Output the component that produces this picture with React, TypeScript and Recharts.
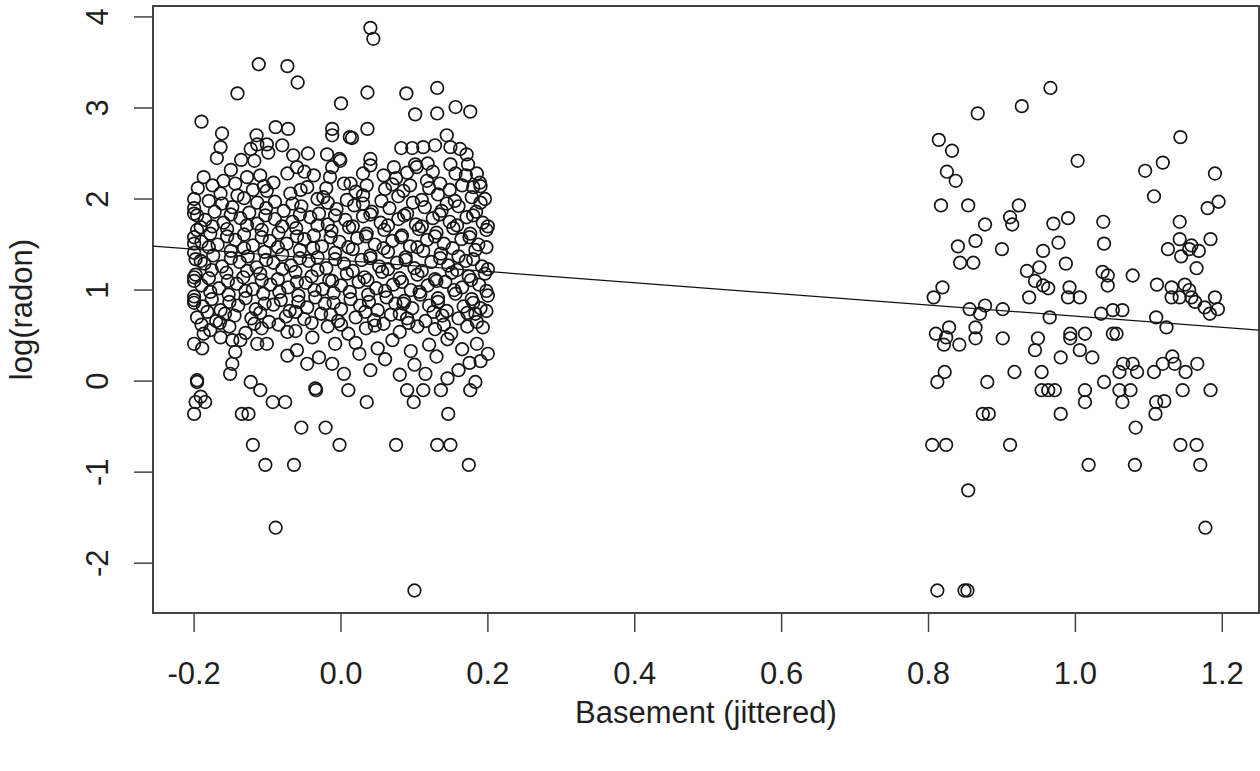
import React from "react"
import {
  ScatterChart,
  Scatter,
  XAxis,
  YAxis,
  ReferenceLine,
  ReferenceArea,
} from "recharts"

// fitted line from the plot: log(radon) = a + b * basement
const intercept = 1.3262
const slope = -0.6133

const xDomain: [number, number] = [-0.256, 1.25]
const yDomain: [number, number] = [-2.547, 4.12]
const xTicks = [-0.2, 0, 0.2, 0.4, 0.6, 0.8, 1.0, 1.2]
const yTicks = [-2, -1, 0, 1, 2, 3, 4]

// basement = 0 group, upper fringe
const basementHigh: [number, number][] = [
  [0.04, 3.88], [0.044, 3.76], [-0.112, 3.48], [-0.073, 3.46], [-0.059, 3.28],
  [-0.141, 3.16], [0.0, 3.05], [0.036, 3.17], [0.089, 3.16], [0.131, 3.22],
  [0.101, 2.93], [0.131, 2.94], [0.156, 3.01], [0.176, 2.96], [-0.19, 2.85],
  [-0.162, 2.72], [-0.089, 2.79], [-0.072, 2.77], [-0.012, 2.77], [-0.012, 2.7],
  [0.012, 2.68], [0.015, 2.67], [0.036, 2.77], [0.144, 2.7], [-0.164, 2.57],
  [-0.169, 2.45], [-0.115, 2.7], [-0.114, 2.6], [-0.123, 2.55], [-0.101, 2.6],
  [-0.08, 2.59], [-0.045, 2.5], [-0.136, 2.43], [-0.118, 2.42], [-0.099, 2.51],
  [-0.065, 2.48], [-0.019, 2.49], [-0.002, 2.44], [0.082, 2.56], [0.097, 2.56],
  [0.112, 2.57], [0.128, 2.59], [0.149, 2.57], [0.162, 2.55], [0.04, 2.44],
  [0.04, 2.37], [0.171, 2.49], [0.173, 2.38], [0.149, 2.38], [0.118, 2.39],
  [0.101, 2.38], [0.072, 2.35], [0.058, 2.26], [0.156, 2.28], [0.185, 2.28],
  [0.189, 2.18], [0.18, 2.13], [-0.001, 2.42], [0.013, 2.17], [0.035, 2.15],
  [0.09, 2.29], [0.103, 2.35], [0.085, 2.09], [0.117, 2.2], [0.135, 2.17],
  [0.094, 2.15], [-0.187, 2.24], [-0.16, 2.2], [-0.144, 2.17], [-0.128, 2.24],
  [-0.11, 2.26], [-0.092, 2.18], [-0.073, 2.28], [-0.06, 2.35], [-0.037, 2.26],
  [-0.012, 2.35], [-0.015, 2.24], [0.004, 2.17], [-0.2, 2.0], [-0.164, 2.06],
  [-0.141, 2.04], [-0.101, 2.09], [-0.069, 2.06], [-0.046, 2.13], [-0.024, 2.02],
  [0.03, 2.28], [0.075, 2.23], [0.125, 2.3], [0.17, 2.26], [-0.05, 2.3], [-0.15, 2.32],
]

// basement = 0 group, dense middle
const basementMid: [number, number][] = [
  [-0.178, 0.56], [-0.152, 0.6], [-0.13, 0.53], [-0.108, 0.58], [-0.085, 0.62], [-0.062, 0.55],
  [-0.018, 0.6], [0.01, 0.52], [0.034, 0.58], [0.058, 0.63], [0.08, 0.54], [0.104, 0.6],
  [0.128, 0.57], [0.15, 0.52], [0.172, 0.6], [0.193, 0.59],
  [-0.196, 0.7], [-0.17, 0.66], [-0.145, 0.72], [-0.122, 0.69], [-0.098, 0.65], [-0.075, 0.71],
  [-0.05, 0.68], [-0.027, 0.74], [-0.004, 0.66], [0.02, 0.7], [0.045, 0.67], [0.068, 0.73],
  [0.09, 0.69], [0.115, 0.66], [0.138, 0.72], [0.16, 0.69], [0.183, 0.74],
  [-0.188, 0.82], [-0.164, 0.78], [-0.14, 0.83], [-0.116, 0.79], [-0.092, 0.84], [-0.07, 0.77],
  [-0.046, 0.81], [-0.022, 0.85], [0.0, 0.79], [0.026, 0.83], [0.05, 0.78], [0.074, 0.85],
  [0.097, 0.8], [0.12, 0.83], [0.144, 0.77], [0.167, 0.82], [0.19, 0.8],
  [-0.2, 0.93], [-0.176, 0.9], [-0.153, 0.95], [-0.13, 0.91], [-0.106, 0.96], [-0.082, 0.89],
  [-0.058, 0.94], [-0.035, 0.92], [-0.01, 0.97], [0.013, 0.9], [0.037, 0.95], [0.062, 0.92],
  [0.086, 0.88], [0.108, 0.95], [0.132, 0.91], [0.156, 0.96], [0.178, 0.9], [0.2, 0.94],
  [-0.19, 1.05], [-0.166, 1.02], [-0.142, 1.07], [-0.12, 1.01], [-0.096, 1.06], [-0.072, 1.03],
  [-0.048, 1.08], [-0.025, 1.01], [0.0, 1.05], [0.024, 1.09], [0.048, 1.02], [0.071, 1.06],
  [0.095, 1.0], [0.118, 1.05], [0.142, 1.09], [0.165, 1.03], [0.188, 1.06],
  [-0.198, 1.17], [-0.18, 1.13], [-0.156, 1.19], [-0.133, 1.14], [-0.11, 1.18], [-0.086, 1.12],
  [-0.062, 1.2], [-0.04, 1.15], [-0.016, 1.11], [0.008, 1.18], [0.032, 1.14], [0.056, 1.2],
  [0.08, 1.13], [0.104, 1.17], [0.128, 1.12], [0.151, 1.19], [0.174, 1.15], [0.196, 1.18],
  [-0.186, 1.29], [-0.162, 1.26], [-0.138, 1.31], [-0.115, 1.25], [-0.092, 1.3], [-0.068, 1.27],
  [-0.044, 1.32], [-0.02, 1.24], [0.004, 1.29], [0.028, 1.33], [0.052, 1.26], [0.076, 1.3],
  [0.1, 1.24], [0.123, 1.31], [0.146, 1.27], [0.17, 1.32], [0.192, 1.26],
  [-0.2, 1.41], [-0.174, 1.38], [-0.15, 1.43], [-0.127, 1.37], [-0.104, 1.42], [-0.08, 1.39],
  [-0.056, 1.44], [-0.032, 1.36], [-0.008, 1.41], [0.016, 1.45], [0.04, 1.38], [0.064, 1.42],
  [0.088, 1.36], [0.112, 1.43], [0.136, 1.4], [0.16, 1.37], [0.183, 1.44],
  [-0.19, 1.53], [-0.168, 1.5], [-0.144, 1.55], [-0.12, 1.49], [-0.097, 1.54], [-0.074, 1.51],
  [-0.05, 1.56], [-0.026, 1.48], [-0.002, 1.53], [0.022, 1.57], [0.046, 1.5], [0.07, 1.54],
  [0.094, 1.48], [0.117, 1.55], [0.14, 1.51], [0.164, 1.56], [0.187, 1.5],
  [-0.196, 1.66], [-0.178, 1.62], [-0.155, 1.67], [-0.132, 1.61], [-0.108, 1.66], [-0.085, 1.63],
  [-0.061, 1.68], [-0.037, 1.6], [-0.013, 1.65], [0.011, 1.69], [0.035, 1.62], [0.059, 1.66],
  [0.083, 1.6], [0.106, 1.67], [0.13, 1.63], [0.153, 1.68], [0.176, 1.62], [0.198, 1.66],
  [-0.185, 1.77], [-0.16, 1.74], [-0.137, 1.79], [-0.114, 1.73], [-0.09, 1.78], [-0.066, 1.75],
  [-0.042, 1.8], [-0.018, 1.72], [0.006, 1.77], [0.03, 1.81], [0.054, 1.74], [0.078, 1.78],
  [0.102, 1.72], [0.125, 1.79], [0.148, 1.75], [0.171, 1.8], [0.193, 1.74],
  [-0.2, 1.9], [-0.172, 1.86], [-0.148, 1.91], [-0.125, 1.85], [-0.102, 1.9], [-0.078, 1.87],
  [-0.054, 1.92], [-0.03, 1.84], [-0.006, 1.89], [0.018, 1.93], [0.042, 1.86], [0.066, 1.9],
  [0.09, 1.84], [0.114, 1.91], [0.137, 1.87], [0.16, 1.92], [0.184, 1.86],
  [-0.18, 1.98], [-0.132, 2.01], [-0.09, 1.97], [-0.032, 2.0], [0.008, 1.99], [0.03, 2.04],
  [0.055, 1.98], [0.078, 2.03], [0.11, 1.99], [0.132, 2.05], [0.155, 1.98], [0.178, 2.02],
  [0.196, 2.0], [-0.195, 2.12], [-0.12, 2.1], [-0.02, 2.12], [0.06, 2.11], [0.148, 2.1],
  [0.19, 2.14],
]

// basement = 0 group, second pass over the dense middle
const basementMidExtra: [number, number][] = [
  [-0.19, 0.62], [-0.165, 0.64], [-0.118, 0.63], [-0.04, 0.64], [0.0, 0.62], [0.046, 0.61],
  [0.092, 0.64], [0.14, 0.62], [0.185, 0.65],
  [-0.182, 0.76], [-0.158, 0.74], [-0.11, 0.75], [-0.062, 0.76], [-0.014, 0.73], [0.033, 0.76],
  [0.08, 0.74], [0.126, 0.76], [0.172, 0.75], [0.198, 0.77],
  [-0.2, 0.86], [-0.152, 0.87], [-0.104, 0.85], [-0.058, 0.87], [-0.01, 0.86], [0.038, 0.87],
  [0.085, 0.85], [0.132, 0.87], [0.18, 0.86],
  [-0.178, 0.98], [-0.13, 0.99], [-0.084, 0.98], [-0.036, 1.0], [0.012, 0.98], [0.06, 0.99],
  [0.107, 0.98], [0.154, 1.0], [0.198, 0.99],
  [-0.2, 1.1], [-0.154, 1.1], [-0.108, 1.11], [-0.06, 1.09], [-0.012, 1.1], [0.036, 1.11],
  [0.083, 1.09], [0.13, 1.1], [0.177, 1.11],
  [-0.176, 1.22], [-0.128, 1.21], [-0.08, 1.23], [-0.032, 1.22], [0.016, 1.21], [0.064, 1.23],
  [0.11, 1.21], [0.158, 1.22], [0.2, 1.23],
  [-0.198, 1.34], [-0.15, 1.35], [-0.102, 1.33], [-0.056, 1.35], [-0.008, 1.34], [0.04, 1.35],
  [0.088, 1.33], [0.135, 1.35], [0.18, 1.34],
  [-0.18, 1.47], [-0.132, 1.46], [-0.086, 1.47], [-0.038, 1.46], [0.01, 1.47], [0.058, 1.46],
  [0.104, 1.47], [0.152, 1.46], [0.198, 1.47],
  [-0.2, 1.58], [-0.155, 1.59], [-0.108, 1.58], [-0.06, 1.59], [-0.014, 1.58], [0.034, 1.59],
  [0.082, 1.58], [0.128, 1.59], [0.175, 1.58],
  [-0.175, 1.7], [-0.128, 1.71], [-0.08, 1.7], [-0.032, 1.71], [0.016, 1.7], [0.064, 1.71],
  [0.11, 1.7], [0.158, 1.71], [0.2, 1.7],
  [-0.196, 1.82], [-0.15, 1.83], [-0.103, 1.82], [-0.056, 1.83], [-0.008, 1.82], [0.04, 1.83],
  [0.086, 1.82], [0.134, 1.83], [0.18, 1.82],
  [-0.162, 1.95], [-0.114, 1.96], [-0.066, 1.95], [-0.018, 1.96], [0.03, 1.95], [0.098, 1.96],
  [0.144, 1.95], [0.19, 1.96],
  [-0.175, 2.15], [-0.105, 2.14], [-0.055, 2.1], [0.02, 2.08], [0.07, 2.16], [0.12, 2.12],
  [0.165, 2.15],
]

// basement = 0 group, lower fringe
const basementLow: [number, number][] = [
  [-0.2, 1.84], [-0.2, 1.51], [-0.2, 1.14], [-0.2, 0.89], [-0.2, 0.41], [-0.196, -0.01],
  [-0.191, -0.17], [-0.191, 1.69], [-0.191, 1.32], [-0.187, 0.52], [-0.189, 0.36],
  [-0.164, 0.48], [-0.148, 0.45], [-0.144, 0.32], [-0.148, 0.19], [-0.151, 0.08],
  [-0.123, -0.01], [-0.137, 0.45], [-0.114, 0.41], [-0.101, 0.41], [-0.073, 0.28],
  [-0.06, 0.34], [-0.046, 0.19], [-0.03, 0.26], [-0.012, 0.19], [0.004, 0.08],
  [-0.035, -0.08], [-0.073, 0.54], [-0.039, 0.48], [-0.008, 0.41],
  [0.02, 0.42], [0.05, 0.36], [0.07, 0.45], [0.095, 0.33], [0.12, 0.4], [0.145, 0.46],
  [0.165, 0.35], [0.185, 0.41], [0.2, 0.3], [0.19, 0.22], [0.06, 0.24], [0.1, 0.18],
  [0.13, 0.27], [0.16, 0.12], [0.04, 0.12], [0.08, 0.07], [0.025, 0.3], [0.115, 0.08],
  [0.175, 0.2], [0.145, 0.03],
  [-0.196, 0.01], [-0.198, -0.23], [-0.185, -0.23], [-0.2, -0.36], [-0.135, -0.36],
  [-0.126, -0.36], [-0.11, -0.1], [-0.093, -0.23], [-0.076, -0.23], [-0.034, -0.1],
  [0.01, -0.1], [0.035, -0.23], [0.09, -0.1], [0.099, -0.23], [0.112, -0.1], [0.136, -0.1],
  [0.176, -0.1], [0.183, -0.01], [0.146, -0.36], [-0.054, -0.51], [-0.021, -0.51],
  [-0.12, -0.7], [-0.002, -0.7], [0.075, -0.7], [0.131, -0.7], [0.149, -0.7],
  [-0.103, -0.92], [-0.064, -0.92], [0.174, -0.92], [-0.089, -1.61], [0.1, -2.3],
]

// basement = 1 group
const firstFloor: [number, number][] = [
  [0.966, 3.22], [0.927, 3.02], [0.867, 2.94], [0.814, 2.65], [0.832, 2.53], [0.825, 2.3],
  [0.837, 2.2], [1.143, 2.68], [1.003, 2.42], [1.095, 2.31], [1.119, 2.4], [1.19, 2.28],
  [1.107, 2.03], [1.195, 1.97], [1.18, 1.9], [0.817, 1.93], [0.854, 1.93], [0.923, 1.93],
  [0.911, 1.8], [0.914, 1.72], [0.877, 1.72], [0.97, 1.73], [0.99, 1.79], [1.038, 1.75],
  [1.142, 1.75], [0.864, 1.54], [0.84, 1.48], [0.9, 1.45], [0.956, 1.43], [0.977, 1.52],
  [1.039, 1.51], [1.142, 1.56], [1.184, 1.56], [1.126, 1.45], [1.144, 1.37], [1.158, 1.49],
  [1.168, 1.43], [1.155, 1.45], [1.165, 1.24], [0.843, 1.3], [0.861, 1.3], [0.934, 1.21],
  [0.951, 1.25], [0.945, 1.1], [0.956, 1.05], [0.963, 1.02], [0.987, 1.29], [0.992, 1.03],
  [0.99, 0.92], [1.006, 0.92], [0.937, 0.92], [1.037, 1.2], [1.044, 1.16], [1.044, 1.05],
  [1.078, 1.16], [1.111, 1.06], [1.131, 1.03], [1.131, 0.92], [1.142, 0.92], [1.149, 1.06],
  [1.155, 1.0], [1.158, 0.92], [1.163, 0.87], [1.19, 0.92], [0.819, 1.03], [0.807, 0.92],
  [0.856, 0.79], [0.877, 0.83], [0.87, 0.74], [0.901, 0.79], [0.965, 0.7], [1.035, 0.74],
  [1.051, 0.78], [1.064, 0.78], [1.11, 0.7], [1.176, 0.81], [1.194, 0.79], [1.183, 0.74],
  [1.124, 0.59], [0.81, 0.52], [0.828, 0.59], [0.824, 0.48], [0.821, 0.4], [0.842, 0.4],
  [0.864, 0.59], [0.864, 0.47], [0.901, 0.47], [0.949, 0.47], [0.945, 0.34], [0.993, 0.52],
  [0.993, 0.47], [1.013, 0.52], [1.006, 0.34], [1.023, 0.26], [0.98, 0.26], [1.051, 0.52],
  [1.056, 0.52], [0.822, 0.1], [0.812, -0.01], [0.88, -0.01], [0.917, 0.1], [0.954, 0.1],
  [0.954, -0.1], [0.963, -0.1], [0.972, -0.1], [1.013, -0.1], [1.013, -0.23], [1.039, -0.01],
  [1.06, 0.1], [1.065, 0.19], [1.078, 0.19], [1.084, 0.1], [1.06, -0.1], [1.075, -0.1],
  [1.064, -0.23], [1.107, 0.1], [1.119, 0.19], [1.132, 0.27], [1.135, 0.19], [1.15, 0.1],
  [1.166, 0.19], [1.146, -0.1], [1.184, -0.1], [1.11, -0.23], [1.121, -0.22], [1.109, -0.36],
  [0.874, -0.36], [0.882, -0.36], [0.98, -0.36], [1.082, -0.51], [0.805, -0.7], [0.824, -0.7],
  [0.911, -0.7], [1.143, -0.7], [1.165, -0.7], [1.018, -0.92], [1.081, -0.92], [1.17, -0.92],
  [0.854, -1.2], [1.177, -1.61], [0.812, -2.3], [0.849, -2.3], [0.853, -2.3],
]

const toRows = (pts: [number, number][]) => pts.map(([x, y]) => ({ x, y }))

const font = '"Liberation Sans", Arial, sans-serif'
const ink = "#1f1f1f"

const Ring = (props: any) => (
  <circle cx={props.cx} cy={props.cy} r={6.3} fill="none" stroke="#161616" strokeWidth={1.7} />
)

const XTick = ({ x, y, payload }: any) => (
  <text x={x} y={y + 50} textAnchor="middle" fontFamily={font} fontSize={31} fill={ink}>
    {payload.value.toFixed(1)}
  </text>
)

const YTick = ({ x, y, payload }: any) => (
  <text
    x={x - 24}
    y={y}
    textAnchor="middle"
    fontFamily={font}
    fontSize={31}
    fill={ink}
    transform={`rotate(-90, ${x - 24}, ${y})`}
  >
    {payload.value}
  </text>
)

const XTitle = ({ viewBox }: any) => (
  <text
    x={viewBox.x + viewBox.width / 2}
    y={viewBox.y + 110}
    textAnchor="middle"
    fontFamily={font}
    fontSize={31}
    fill={ink}
  >
    Basement (jittered)
  </text>
)

const YTitle = ({ viewBox }: any) => {
  const cx = 32
  const cy = viewBox.y + viewBox.height / 2
  return (
    <text
      x={cx}
      y={cy}
      textAnchor="middle"
      fontFamily={font}
      fontSize={31}
      fill={ink}
      transform={`rotate(-90, ${cx}, ${cy})`}
    >
      log(radon)
    </text>
  )
}

export default function App() {
  return (
    <div style={{ position: "fixed", left: 0, top: 0, width: 1260, height: 771, background: "#fff" }}>
      <ScatterChart width={1260} height={771} margin={{ top: 6, right: 1, bottom: 0, left: 0 }}>
        <XAxis
          dataKey="x"
          type="number"
          domain={xDomain}
          ticks={xTicks}
          allowDataOverflow
          height={158}
          tickSize={19}
          axisLine={false}
          tickLine={{ stroke: "#444", strokeWidth: 1.5 }}
          tick={<XTick />}
          label={<XTitle />}
        />
        <YAxis
          dataKey="y"
          type="number"
          domain={yDomain}
          ticks={yTicks}
          allowDataOverflow
          width={153}
          tickSize={19}
          axisLine={false}
          tickLine={{ stroke: "#444", strokeWidth: 1.5 }}
          tick={<YTick />}
          label={<YTitle />}
        />
        <ReferenceArea
          x1={xDomain[0]}
          x2={xDomain[1]}
          y1={yDomain[0]}
          y2={yDomain[1]}
          fill="none"
          fillOpacity={0}
          stroke="#444"
          strokeWidth={2}
        />
        <Scatter data={toRows(basementMid)} shape={Ring} isAnimationActive={false} />
        <Scatter data={toRows(basementMidExtra)} shape={Ring} isAnimationActive={false} />
        <Scatter data={toRows(basementHigh)} shape={Ring} isAnimationActive={false} />
        <Scatter data={toRows(basementLow)} shape={Ring} isAnimationActive={false} />
        <Scatter data={toRows(firstFloor)} shape={Ring} isAnimationActive={false} />
        <ReferenceLine
          segment={[
            { x: xDomain[0], y: intercept + slope * xDomain[0] },
            { x: xDomain[1], y: intercept + slope * xDomain[1] },
          ]}
          stroke="#111"
          strokeWidth={1.2}
        />
      </ScatterChart>
    </div>
  )
}
